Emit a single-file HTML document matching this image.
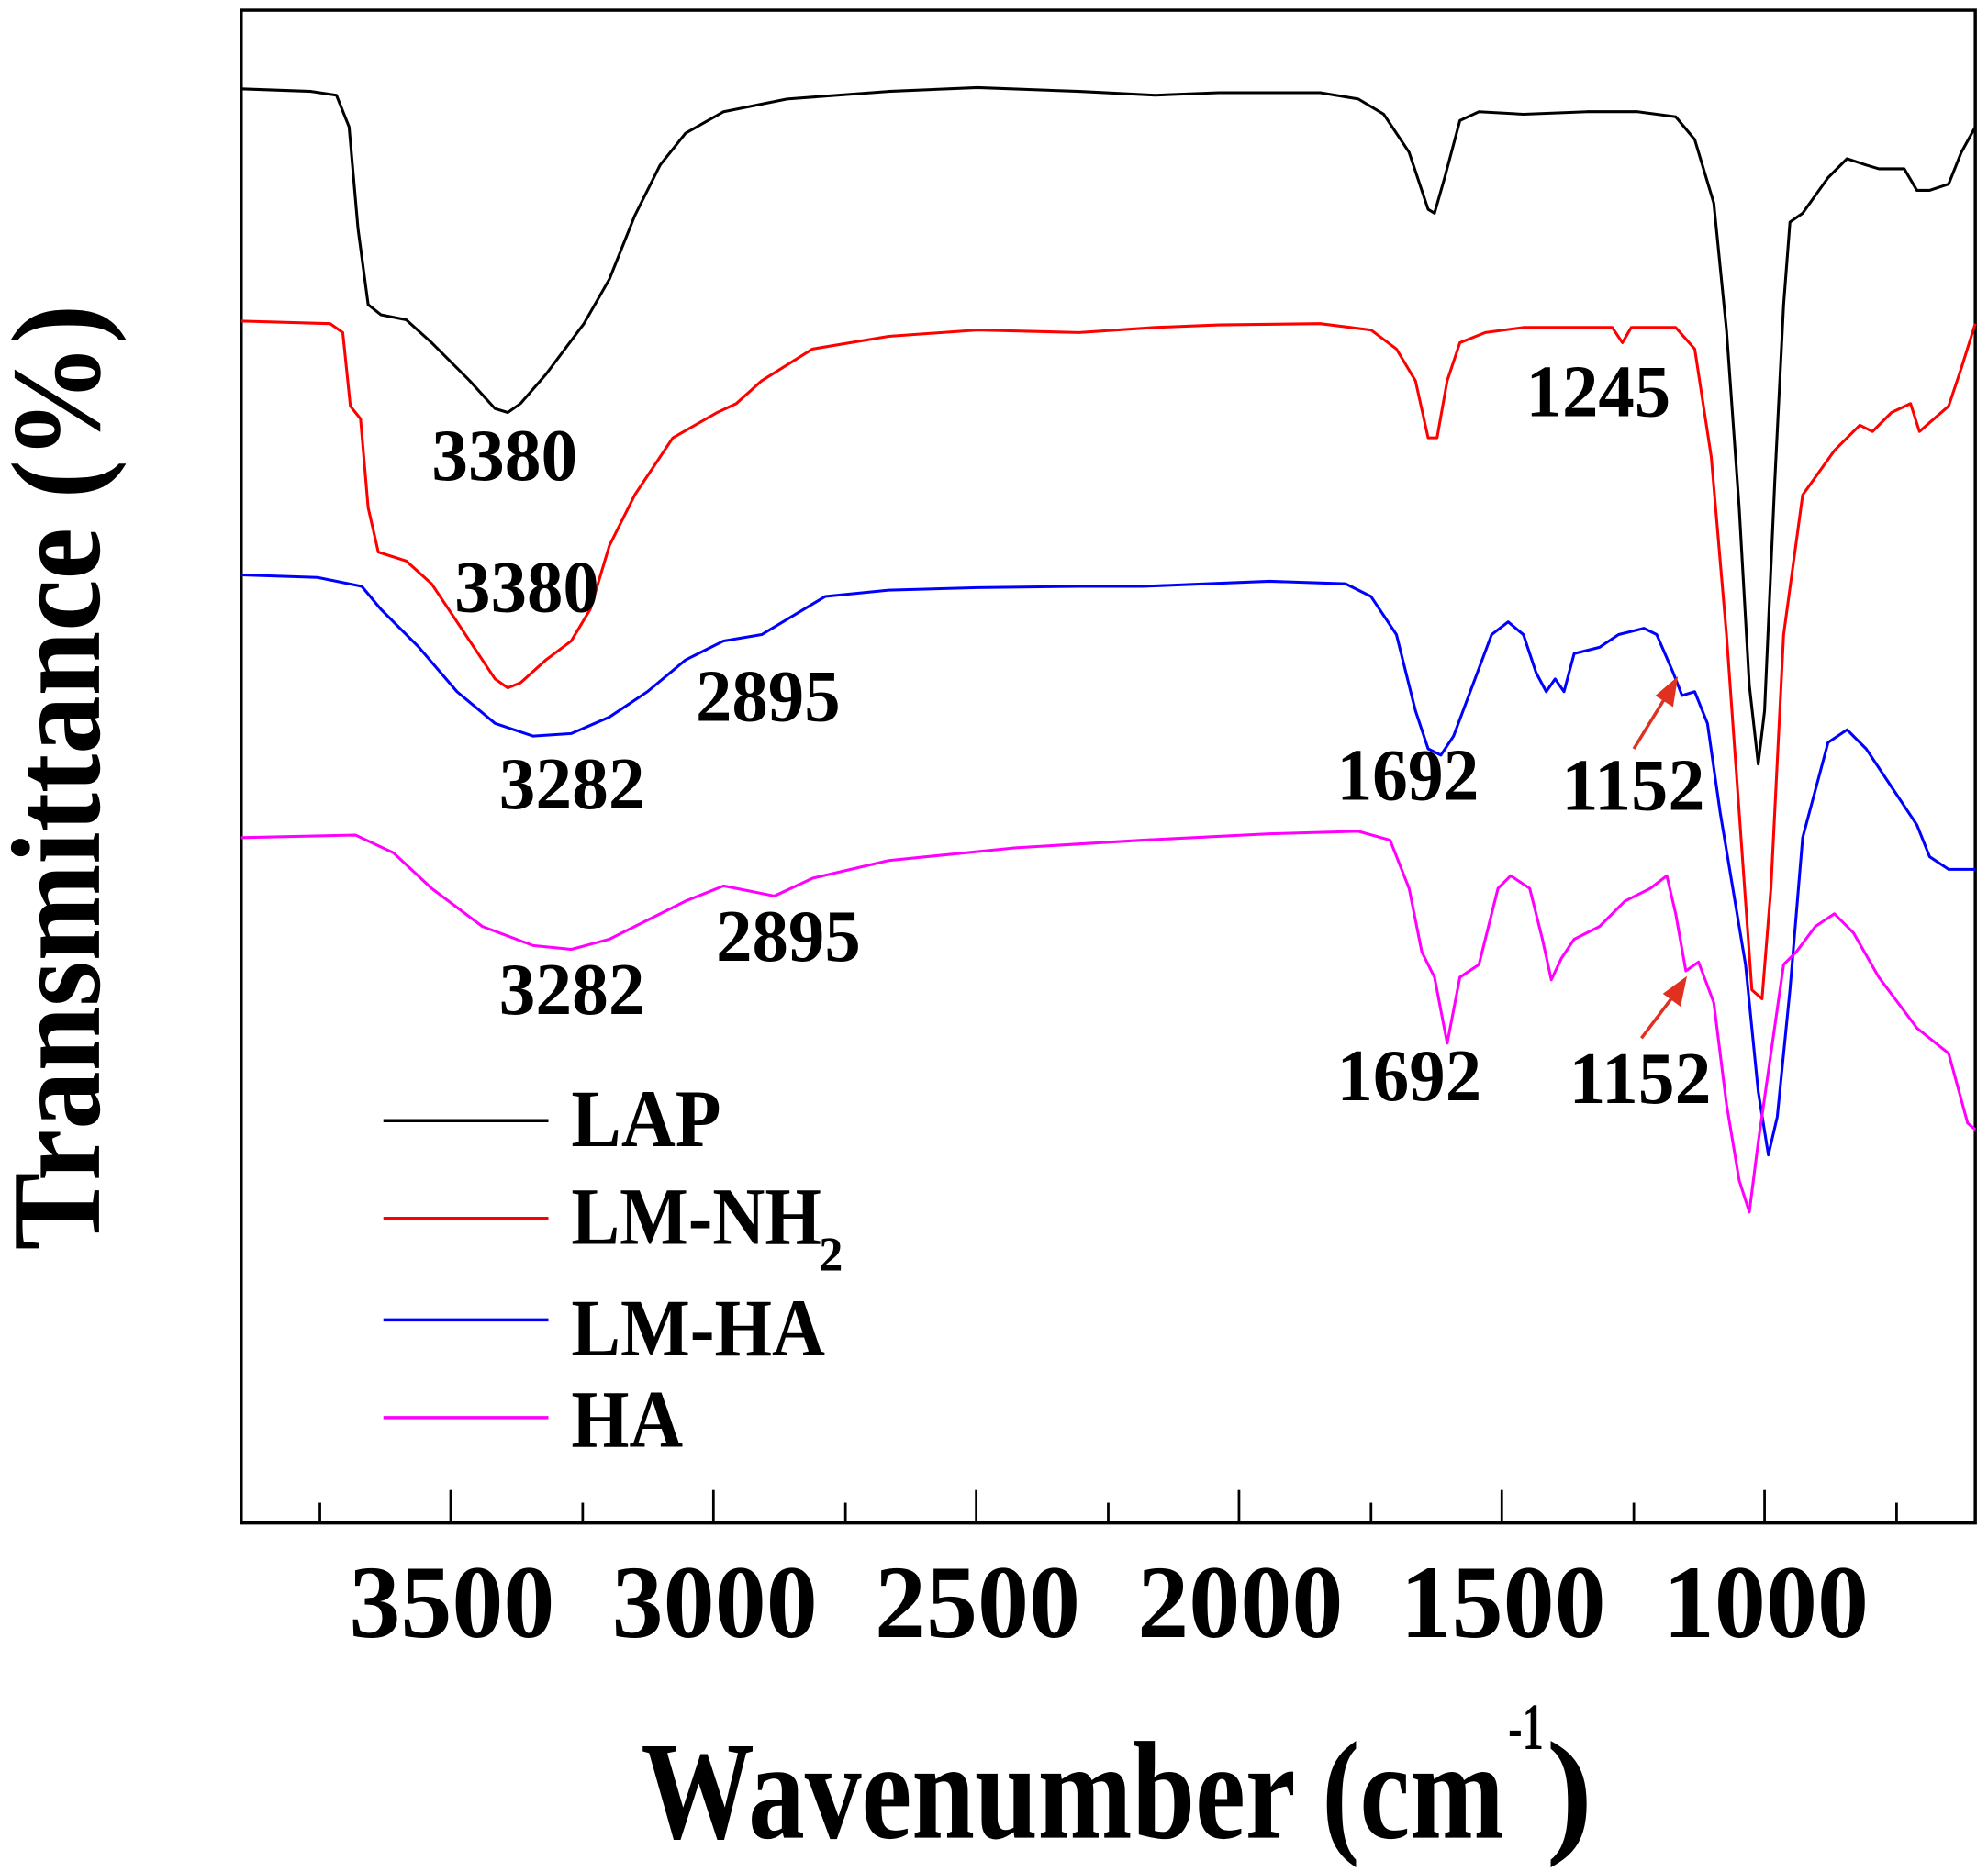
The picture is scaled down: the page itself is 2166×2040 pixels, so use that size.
<!DOCTYPE html>
<html><head><meta charset="utf-8"><style>
html,body{margin:0;padding:0;background:#fff}
svg{display:block}
text{font-family:"Liberation Serif",serif;font-weight:bold;fill:#000}
</style></head><body>
<svg width="2166" height="2040" viewBox="0 0 1566 1475" preserveAspectRatio="none" xmlns="http://www.w3.org/2000/svg">
<rect x="190" y="8" width="1366" height="1192" fill="none" stroke="#000" stroke-width="2.5"/>
<g stroke="#000" stroke-width="2">
<line x1="252" y1="1200" x2="252" y2="1184"/><line x1="355" y1="1200" x2="355" y2="1174"/>
<line x1="459" y1="1200" x2="459" y2="1184"/><line x1="562" y1="1200" x2="562" y2="1174"/>
<line x1="666" y1="1200" x2="666" y2="1184"/><line x1="769" y1="1200" x2="769" y2="1174"/>
<line x1="873" y1="1200" x2="873" y2="1184"/><line x1="976" y1="1200" x2="976" y2="1174"/>
<line x1="1080" y1="1200" x2="1080" y2="1184"/><line x1="1183" y1="1200" x2="1183" y2="1174"/>
<line x1="1287" y1="1200" x2="1287" y2="1184"/><line x1="1390" y1="1200" x2="1390" y2="1174"/>
<line x1="1494" y1="1200" x2="1494" y2="1184"/>
</g>
<g font-size="82">
<text x="275" y="1290" textLength="162" lengthAdjust="spacingAndGlyphs">3500</text>
<text x="482" y="1290" textLength="162" lengthAdjust="spacingAndGlyphs">3000</text>
<text x="689" y="1290" textLength="162" lengthAdjust="spacingAndGlyphs">2500</text>
<text x="896" y="1290" textLength="162" lengthAdjust="spacingAndGlyphs">2000</text>
<text x="1103" y="1290" textLength="162" lengthAdjust="spacingAndGlyphs">1500</text>
<text x="1310" y="1290" textLength="162" lengthAdjust="spacingAndGlyphs">1000</text>
</g>
<text x="505" y="1448" font-size="110" textLength="680" lengthAdjust="spacingAndGlyphs">Wavenumber (cm</text>
<text x="1188" y="1378" font-size="52" textLength="28" lengthAdjust="spacingAndGlyphs">-1</text>
<text x="1218" y="1448" font-size="110">)</text>
<text transform="translate(78,985) rotate(-90)" font-size="100" textLength="745" lengthAdjust="spacingAndGlyphs">Transmittance (%)</text>
<g fill="none" stroke-width="2.2" stroke-linejoin="round">
<polyline stroke="#000" points="190,70 245,72 265,75 275,100 282,180 290,240 300,248 320,252 340,270 370,300 390,322 400,325 410,318 430,295 460,255 480,220 500,170 520,130 540,105 570,88 620,78 700,72 770,69 850,72 910,75 960,73 1040,73 1070,78 1090,90 1110,120 1125,165 1130,168 1138,140 1150,95 1165,88 1200,90 1250,88 1290,88 1320,92 1335,110 1350,160 1360,260 1370,400 1378,540 1385,602 1390,560 1398,380 1405,240 1410,175 1420,168 1440,140 1455,125 1470,130 1480,133 1500,133 1510,150 1520,150 1535,145 1545,120 1556,100"/>
<polyline stroke="#f00" points="190,253 260,255 270,262 276,320 284,330 290,400 298,435 320,442 340,460 370,505 390,535 400,542 410,538 430,520 450,505 465,480 480,430 500,390 530,345 565,325 580,318 600,300 640,275 700,265 770,260 850,262 910,258 960,256 1040,255 1080,260 1100,275 1115,300 1125,345 1132,345 1140,300 1150,270 1170,262 1200,258 1270,258 1278,270 1285,258 1320,258 1335,275 1348,360 1360,500 1370,640 1380,780 1388,787 1395,700 1405,500 1420,390 1445,355 1465,335 1475,340 1490,325 1505,318 1512,340 1520,333 1535,320 1545,290 1556,255"/>
<polyline stroke="#00f" points="190,453 250,455 285,462 300,480 330,510 360,545 390,570 420,580 450,578 480,565 510,545 540,520 570,505 600,500 620,488 650,470 700,465 770,463 850,462 900,462 1000,458 1060,460 1080,470 1100,500 1115,560 1125,590 1135,595 1145,580 1160,540 1175,500 1188,490 1200,500 1210,530 1218,545 1225,535 1232,545 1240,515 1260,510 1275,500 1295,495 1305,500 1318,530 1325,548 1335,545 1345,570 1355,640 1365,700 1375,760 1385,860 1393,910 1400,880 1410,780 1420,660 1440,585 1455,575 1470,590 1490,620 1510,650 1520,675 1535,685 1556,685"/>
<polyline stroke="#f0f" points="190,660 280,658 310,672 340,700 380,730 420,745 450,748 480,740 510,725 540,710 570,698 590,702 610,706 640,692 700,678 800,668 900,662 1000,657 1070,655 1095,662 1110,700 1120,750 1130,770 1140,822 1150,770 1165,760 1180,700 1190,690 1205,700 1215,740 1222,772 1230,755 1240,740 1260,730 1280,710 1300,700 1313,690 1320,720 1328,765 1338,758 1350,790 1360,870 1370,930 1378,955 1385,900 1395,830 1405,760 1415,750 1430,730 1445,720 1460,735 1480,770 1510,810 1535,830 1550,885 1556,890"/>
</g>
<g stroke="#e03020" stroke-width="2.5" fill="#e03020">
<line x1="1287" y1="590" x2="1314" y2="546"/><polygon points="1320,536 1317,555 1306,548"/>
<line x1="1293" y1="818" x2="1321" y2="781"/><polygon points="1327,772 1323,791 1312,783"/>
</g>
<g font-size="58">
<text x="340" y="378" textLength="115" lengthAdjust="spacingAndGlyphs">3380</text>
<text x="358" y="482" textLength="114" lengthAdjust="spacingAndGlyphs">3380</text>
<text x="1202" y="328" textLength="114" lengthAdjust="spacingAndGlyphs">1245</text>
<text x="548" y="568" textLength="114" lengthAdjust="spacingAndGlyphs">2895</text>
<text x="393" y="637" textLength="115" lengthAdjust="spacingAndGlyphs">3282</text>
<text x="1053" y="630" textLength="112" lengthAdjust="spacingAndGlyphs">1692</text>
<text x="1230" y="638" textLength="113" lengthAdjust="spacingAndGlyphs">1152</text>
<text x="564" y="757" textLength="114" lengthAdjust="spacingAndGlyphs">2895</text>
<text x="393" y="799" textLength="115" lengthAdjust="spacingAndGlyphs">3282</text>
<text x="1053" y="867" textLength="114" lengthAdjust="spacingAndGlyphs">1692</text>
<text x="1236" y="869" textLength="112" lengthAdjust="spacingAndGlyphs">1152</text>
</g>
<g stroke-width="2.5">
<line x1="302" y1="883" x2="432" y2="883" stroke="#000"/>
<line x1="302" y1="960" x2="432" y2="960" stroke="#f00"/>
<line x1="302" y1="1040" x2="432" y2="1040" stroke="#00f"/>
<line x1="302" y1="1117" x2="432" y2="1117" stroke="#f0f"/>
</g>
<g font-size="64">
<text x="450" y="903" textLength="118" lengthAdjust="spacingAndGlyphs">LAP</text>
<text x="450" y="980" textLength="197" lengthAdjust="spacingAndGlyphs">LM-NH</text>
<text x="645" y="1001" font-size="38">2</text>
<text x="450" y="1068" textLength="200" lengthAdjust="spacingAndGlyphs">LM-HA</text>
<text x="450" y="1140" textLength="88" lengthAdjust="spacingAndGlyphs">HA</text>
</g>
</svg>
</body></html>
